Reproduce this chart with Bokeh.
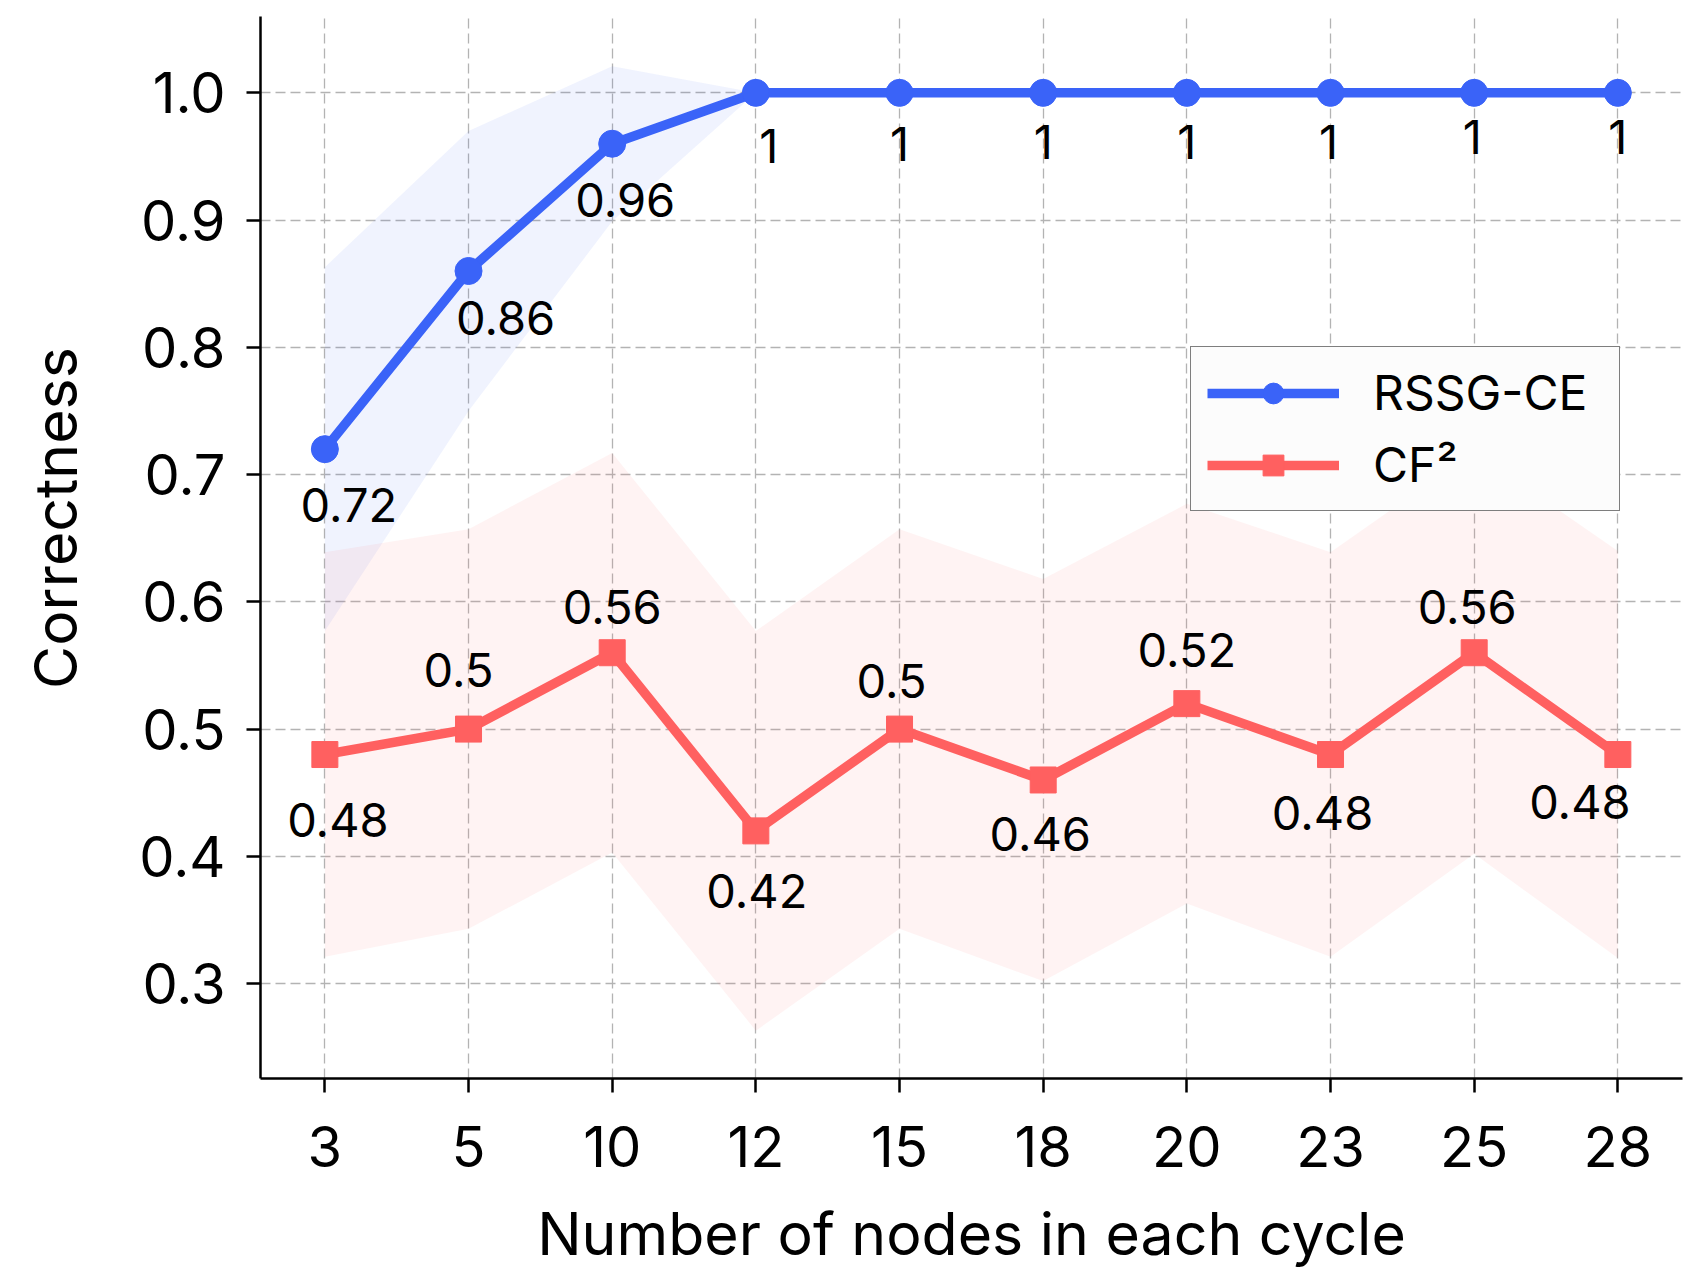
import numpy as np
from bokeh.plotting import figure
from bokeh.models import (Range1d, FixedTicker, Legend, LegendItem,
                          ColumnDataSource, NumeralTickFormatter)
from bokeh.core.properties import value
from bokeh.embed import file_html
from bokeh.resources import INLINE

# ---------------- data ----------------
nodes = ["3", "5", "10", "12", "15", "18", "20", "23", "25", "28"]
rssg_mean = [0.72, 0.86, 0.96, 1.0, 1.0, 1.0, 1.0, 1.0, 1.0, 1.0]
rssg_std = [0.143, 0.110, 0.061, 0.0, 0.0, 0.0, 0.0, 0.0, 0.0, 0.0]
cf2_mean = [0.48, 0.50, 0.56, 0.42, 0.50, 0.46, 0.52, 0.48, 0.56, 0.48]
cf2_std = [0.159, 0.157, 0.157, 0.157, 0.157, 0.158, 0.157, 0.159, 0.158, 0.160]
y_ticks = [0.3, 0.4, 0.5, 0.6, 0.7, 0.8, 0.9, 1.0]
x_title = "Number of nodes in each cycle"
y_title = "Correctness"

# ---------------- style ----------------
BLUE = "#3a63f8"
RED = "#ff6060"
FONT = "Inter"
# label offsets in screen pixels (dx right, dy down)
rssg_dx = [24, 37, 13, 13, 0, 0, 0, -2, -2, 0]
rssg_dy = [56, 47, 56, 53, 51, 49, 49, 49, 44, 44]
cf2_dx = [13, -10, 0, 1, -8, -3, 0, -8, -7, -38]
cf2_dy = [65, -59, -46, 60, -48, 54, -54, 58, -46, 47]

xi = list(range(len(nodes)))


def fmt(v):
    return f"{v:g}"


r_lo = [m - s for m, s in zip(rssg_mean, rssg_std)]
r_hi = [m + s for m, s in zip(rssg_mean, rssg_std)]
c_lo = [m - s for m, s in zip(cf2_mean, cf2_std)]
c_hi = [m + s for m, s in zip(cf2_mean, cf2_std)]

p = figure(width=1707, height=1271, output_backend="svg", toolbar_location=None,
           x_range=Range1d(-0.448, 9.45), y_range=Range1d(0.2254, 1.060),
           min_border_left=260, min_border_right=25, min_border_top=16,
           min_border_bottom=193)
p.outline_line_color = None
p.background_fill_color = "white"
p.border_fill_color = "white"

# bands
p.varea(x=xi, y1=r_lo, y2=r_hi, fill_color=BLUE, fill_alpha=0.075)
p.varea(x=xi, y1=c_lo, y2=c_hi, fill_color=RED, fill_alpha=0.08)

# lines and markers
l1 = p.line(xi, rssg_mean, line_color=BLUE, line_width=9.5)
s1 = p.scatter(xi, rssg_mean, marker="circle", size=27, fill_color=BLUE, line_color=BLUE)
l2 = p.line(xi, cf2_mean, line_color=RED, line_width=9.5)
s2 = p.scatter(xi, cf2_mean, marker="square", size=26, fill_color=RED, line_color=RED)

# value labels
src_r = ColumnDataSource(dict(x=xi, y=rssg_mean, t=[fmt(v) for v in rssg_mean],
                              dx=rssg_dx, dy=rssg_dy))
src_c = ColumnDataSource(dict(x=xi, y=cf2_mean, t=[fmt(v) for v in cf2_mean],
                              dx=cf2_dx, dy=cf2_dy))
for src in (src_r, src_c):
    p.text(x="x", y="y", text="t", source=src, x_offset="dx", y_offset="dy",
           text_font=value(FONT), text_font_size="47px", text_align="center",
           text_baseline="alphabetic", text_color="black")

# axes
p.xaxis.ticker = FixedTicker(ticks=xi)
p.xaxis.major_label_overrides = {i: n for i, n in enumerate(nodes)}
p.yaxis.ticker = FixedTicker(ticks=y_ticks)
p.yaxis.formatter = NumeralTickFormatter(format="0.0")
p.xaxis.axis_label = x_title
p.yaxis.axis_label = "\u2002\u2002" + y_title
for ax in (p.xaxis[0], p.yaxis[0]):
    ax.axis_line_width = 2.5
    ax.axis_line_color = "black"
    ax.major_tick_line_width = 2.5
    ax.major_tick_line_color = "black"
    ax.major_tick_out = 14
    ax.major_tick_in = 0
    ax.minor_tick_out = 0
    ax.minor_tick_in = 0
    ax.major_label_text_font = FONT
    ax.major_label_text_font_size = "56px"
    ax.major_label_text_color = "black"
    ax.axis_label_text_font = FONT
    ax.axis_label_text_font_size = "59px"
    ax.axis_label_text_font_style = "normal"
    ax.axis_label_text_color = "black"
p.xaxis.major_label_standoff = 33
p.yaxis.major_label_standoff = 21
p.xaxis.axis_label_standoff = 28
p.yaxis.axis_label_standoff = 45

# grid
for g in (p.xgrid[0], p.ygrid[0]):
    g.grid_line_color = "#b3b3b3"
    g.grid_line_width = 1.3
    g.grid_line_dash = "10 5"
p.xgrid.ticker = FixedTicker(ticks=xi)
p.ygrid.ticker = FixedTicker(ticks=y_ticks)

legend = Legend(items=[LegendItem(label="RSSG-CE", renderers=[l1, s1]),
                       LegendItem(label="CF²", renderers=[l2, s2])],
                location=(930, 567))
legend.glyph_width = 132
legend.glyph_height = 52
legend.label_height = 52
legend.label_width = 230
legend.label_standoff = 34
legend.padding = 16
legend.spacing = 13
legend.margin = 0
legend.border_line_color = "black"
legend.border_line_width = 1.5
legend.background_fill_color = "#fcfcfc"
legend.background_fill_alpha = 1.0
legend.label_text_font = FONT
legend.label_text_font_size = "48px"
legend.label_text_color = "black"
p.add_layout(legend)

open("out.html", "w").write(file_html(p, INLINE))
